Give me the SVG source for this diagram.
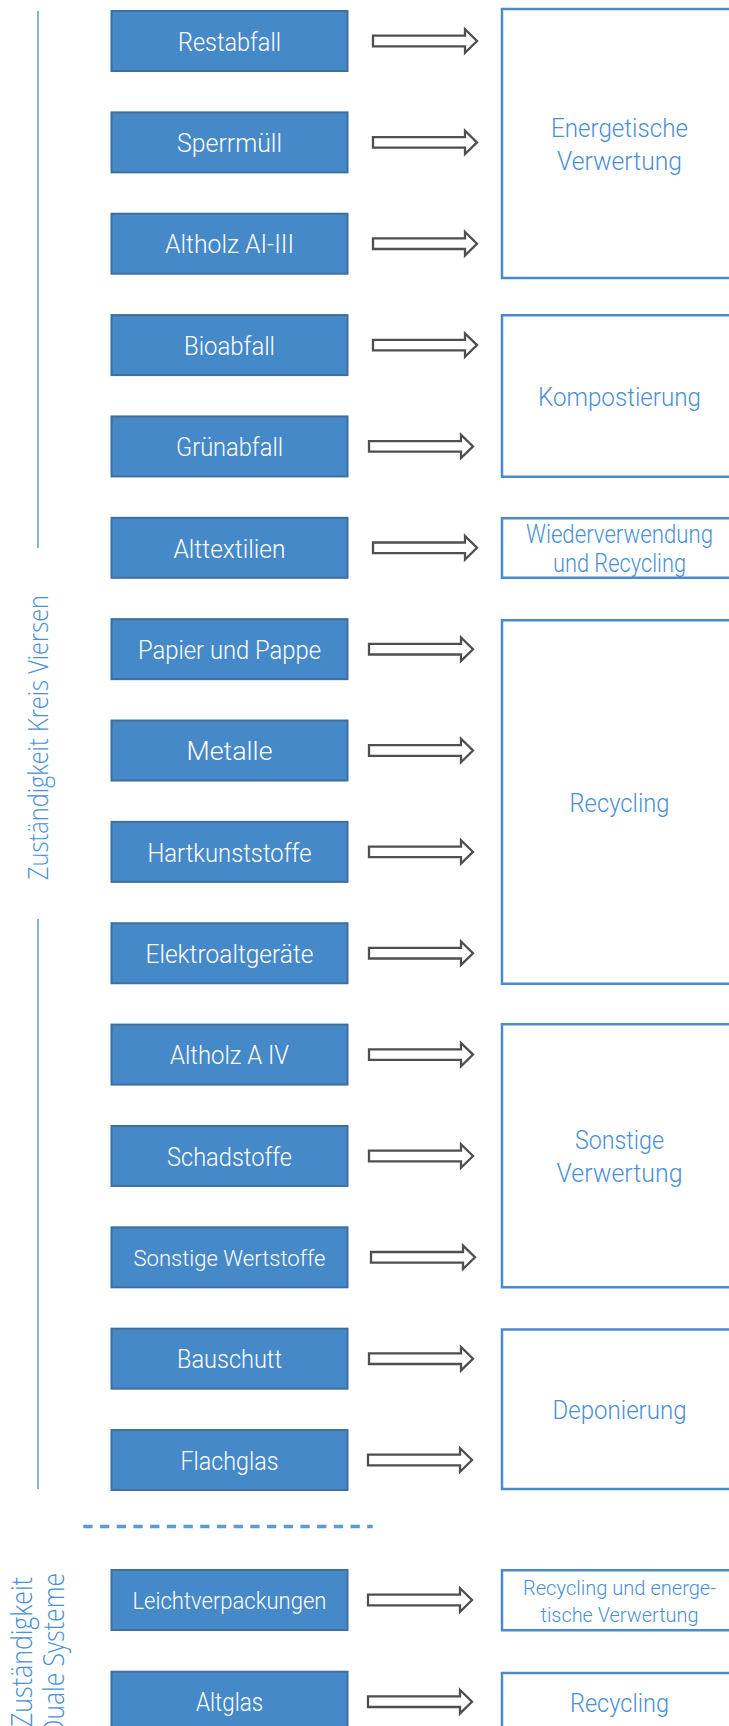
<svg xmlns="http://www.w3.org/2000/svg" width="729" height="1726" viewBox="0 0 729 1726">
<style>
.n rect{fill:#4689C8;stroke:#3F6F9E;stroke-width:2}
.n text{fill:#FFFFFF;font-family:Roboto,"Liberation Sans",sans-serif;font-weight:300;font-size:26px;text-anchor:middle}
.t rect{fill:#FFFFFF;stroke:#4A8BD0;stroke-width:2.5}
.t text{fill:#4A8FD6;font-family:Roboto,"Liberation Sans",sans-serif;font-weight:300;font-size:25px;text-anchor:middle}
.side{stroke:#5B9BD5;stroke-width:1.5;fill:none}
.lab{fill:#4A8FD6;font-family:"Open Sans","Liberation Sans",sans-serif;font-weight:300;font-size:27px;text-anchor:middle}
.lab2{fill:#4A8FD6;font-family:"Open Sans","Liberation Sans",sans-serif;font-weight:300;font-size:29px;text-anchor:middle}
.arr{fill:#FFFFFF;stroke:#4F4F4F;stroke-width:2.3}
</style>
<defs>
<path id="arrow" d="M0,-5.3 H92 V-11.7 L104,0 L92,11.7 V5.3 H0 Z"/>
</defs>
<rect width="729" height="1726" fill="#FFFFFF"/>

<g id="side-labels">
<line class="side" x1="38" y1="11" x2="38" y2="548"/>
<line class="side" x1="38" y1="919" x2="38" y2="1489"/>
<text class="lab" transform="translate(48,737.5) rotate(-90)" textLength="285" lengthAdjust="spacingAndGlyphs">Zuständigkeit Kreis Viersen</text>
<line x1="83.3" y1="1526.5" x2="372.7" y2="1526.5" stroke="#5B9BD5" stroke-width="3.3" stroke-dasharray="9.3 7.4"/>
<text class="lab2" transform="translate(32,1652) rotate(-90)" textLength="150" lengthAdjust="spacingAndGlyphs">Zuständigkeit</text>
<text class="lab2" transform="translate(64,1655) rotate(-90)" textLength="164" lengthAdjust="spacingAndGlyphs">Duale Systeme</text>
</g>

<g id="restabfall" class="n"><rect x="111.5" y="11" width="236" height="60"/><text x="229.5" y="50.7" textLength="103" lengthAdjust="spacingAndGlyphs">Restabfall</text></g>
<g id="sperrmuell" class="n"><rect x="111.5" y="112.36" width="236" height="60"/><text x="229.5" y="152.1" textLength="105" lengthAdjust="spacingAndGlyphs">Sperrmüll</text></g>
<g id="altholz-a1-3" class="n"><rect x="111.5" y="213.72" width="236" height="60"/><text x="229.5" y="253.4" textLength="129" lengthAdjust="spacingAndGlyphs">Altholz AI-III</text></g>
<g id="bioabfall" class="n"><rect x="111.5" y="315.08" width="236" height="60"/><text x="229.5" y="354.8" textLength="91" lengthAdjust="spacingAndGlyphs">Bioabfall</text></g>
<g id="gruenabfall" class="n"><rect x="111.5" y="416.44" width="236" height="60"/><text x="229.5" y="456.1" textLength="107" lengthAdjust="spacingAndGlyphs">Grünabfall</text></g>
<g id="alttextilien" class="n"><rect x="111.5" y="517.8" width="236" height="60"/><text x="229.5" y="557.5" textLength="112" lengthAdjust="spacingAndGlyphs">Alttextilien</text></g>
<g id="papier" class="n"><rect x="111.5" y="619.16" width="236" height="60"/><text x="229.5" y="658.9" textLength="183" lengthAdjust="spacingAndGlyphs">Papier und Pappe</text></g>
<g id="metalle" class="n"><rect x="111.5" y="720.52" width="236" height="60"/><text x="229.5" y="760.2" textLength="86" lengthAdjust="spacingAndGlyphs">Metalle</text></g>
<g id="hartkunststoffe" class="n"><rect x="111.5" y="821.88" width="236" height="60"/><text x="229.5" y="861.6" textLength="164" lengthAdjust="spacingAndGlyphs">Hartkunststoffe</text></g>
<g id="elektroaltgeraete" class="n"><rect x="111.5" y="923.24" width="236" height="60"/><text x="229.5" y="962.9" textLength="168" lengthAdjust="spacingAndGlyphs">Elektroaltgeräte</text></g>
<g id="altholz-a4" class="n"><rect x="111.5" y="1024.6" width="236" height="60"/><text x="229.5" y="1064.3" textLength="119" lengthAdjust="spacingAndGlyphs">Altholz A IV</text></g>
<g id="schadstoffe" class="n"><rect x="111.5" y="1125.96" width="236" height="60"/><text x="229.5" y="1165.7" textLength="125" lengthAdjust="spacingAndGlyphs">Schadstoffe</text></g>
<g id="sonstige-wertstoffe" class="n"><rect x="111.5" y="1227.32" width="236" height="60"/><text x="229.5" y="1265.6" style="font-size:22px" textLength="192" lengthAdjust="spacingAndGlyphs">Sonstige Wertstoffe</text></g>
<g id="bauschutt" class="n"><rect x="111.5" y="1328.68" width="236" height="60"/><text x="229.5" y="1368.4" textLength="105" lengthAdjust="spacingAndGlyphs">Bauschutt</text></g>
<g id="flachglas" class="n"><rect x="111.5" y="1430.04" width="236" height="60"/><text x="229.5" y="1469.7" textLength="98" lengthAdjust="spacingAndGlyphs">Flachglas</text></g>
<g id="leichtverpackungen" class="n"><rect x="111.5" y="1570" width="236" height="60"/><text x="229.5" y="1609" style="font-size:24px" textLength="194" lengthAdjust="spacingAndGlyphs">Leichtverpackungen</text></g>
<g id="altglas" class="n"><rect x="111.5" y="1671.7" width="236" height="60"/><text x="229.5" y="1711.4" textLength="67" lengthAdjust="spacingAndGlyphs">Altglas</text></g>

<g id="energetische-verwertung" class="t"><rect x="502" y="9" width="300" height="269"/><text x="619.5" y="136.7" textLength="137" lengthAdjust="spacingAndGlyphs">Energetische</text><text x="619.5" y="170" textLength="125" lengthAdjust="spacingAndGlyphs">Verwertung</text></g>
<g id="kompostierung" class="t"><rect x="502" y="315.25" width="300" height="161.5"/><text x="619.5" y="405.7" textLength="163" lengthAdjust="spacingAndGlyphs">Kompostierung</text></g>
<g id="wiederverwendung" class="t"><rect x="502" y="518.25" width="300" height="59.5"/><text x="619.5" y="543" textLength="187" lengthAdjust="spacingAndGlyphs">Wiederverwendung</text><text x="619.5" y="572" textLength="133" lengthAdjust="spacingAndGlyphs">und Recycling</text></g>
<g id="recycling" class="t"><rect x="502" y="620.25" width="300" height="363.5"/><text x="619.5" y="811.7" textLength="100" lengthAdjust="spacingAndGlyphs">Recycling</text></g>
<g id="sonstige-verwertung" class="t"><rect x="502" y="1024.25" width="300" height="263"/><text x="619.5" y="1148.6" textLength="89" lengthAdjust="spacingAndGlyphs">Sonstige</text><text x="619.5" y="1182" textLength="126" lengthAdjust="spacingAndGlyphs">Verwertung</text></g>
<g id="deponierung" class="t"><rect x="502" y="1329.5" width="300" height="159.5"/><text x="619.5" y="1419" textLength="134" lengthAdjust="spacingAndGlyphs">Deponierung</text></g>
<g id="recycling-energetisch" class="t"><rect x="502" y="1570.25" width="300" height="60"/><text x="619.5" y="1595" style="font-size:21px" textLength="193" lengthAdjust="spacingAndGlyphs">Recycling und energe-</text><text x="619.5" y="1621.7" style="font-size:21px" textLength="158" lengthAdjust="spacingAndGlyphs">tische Verwertung</text></g>
<g id="recycling-glas" class="t"><rect x="502" y="1673" width="300" height="100"/><text x="619.5" y="1711.7" textLength="99" lengthAdjust="spacingAndGlyphs">Recycling</text></g>

<g id="connectors" class="arr">
<use href="#arrow" transform="translate(373,41)"/>
<use href="#arrow" transform="translate(373,142.4)"/>
<use href="#arrow" transform="translate(373,243.7)"/>
<use href="#arrow" transform="translate(373,345.1)"/>
<use href="#arrow" transform="translate(369,446.4)"/>
<use href="#arrow" transform="translate(373,547.8)"/>
<use href="#arrow" transform="translate(369,649.2)"/>
<use href="#arrow" transform="translate(369,750.5)"/>
<use href="#arrow" transform="translate(369,851.9)"/>
<use href="#arrow" transform="translate(369,953.2)"/>
<use href="#arrow" transform="translate(369,1054.6)"/>
<use href="#arrow" transform="translate(369,1156)"/>
<use href="#arrow" transform="translate(371,1257.3)"/>
<use href="#arrow" transform="translate(369,1358.7)"/>
<use href="#arrow" transform="translate(368,1460)"/>
<use href="#arrow" transform="translate(368,1600)"/>
<use href="#arrow" transform="translate(368,1701.7)"/>
</g>
</svg>
